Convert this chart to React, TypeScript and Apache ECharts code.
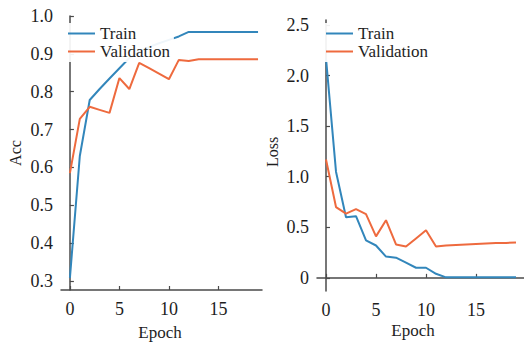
import React, { useEffect, useRef } from "react";
import * as echarts from "echarts";

const epochs = [0, 1, 2, 3, 4, 5, 6, 7, 8, 9, 10, 11, 12, 13, 14, 15, 16, 17, 18, 19];
const trainAcc = [0.308, 0.63, 0.778, 0.807, 0.835, 0.862, 0.889, 0.905, 0.918, 0.928, 0.937, 0.946, 0.958, 0.958, 0.958, 0.958, 0.958, 0.958, 0.958, 0.958];
const valAcc = [0.585, 0.728, 0.76, 0.752, 0.744, 0.836, 0.807, 0.876, 0.862, 0.848, 0.833, 0.884, 0.881, 0.886, 0.886, 0.886, 0.886, 0.886, 0.886, 0.886];
const trainLoss = [2.17, 1.05, 0.6, 0.61, 0.37, 0.32, 0.21, 0.2, 0.15, 0.1, 0.1, 0.04, 0.005, 0.005, 0.005, 0.005, 0.005, 0.005, 0.005, 0.005];
const valLoss = [1.17, 0.7, 0.635, 0.68, 0.63, 0.41, 0.57, 0.33, 0.31, 0.39, 0.47, 0.31, 0.32, 0.325, 0.33, 0.335, 0.34, 0.345, 0.345, 0.35];

const xTicks = [0, 5, 10, 15];
const accTicks = [0.3, 0.4, 0.5, 0.6, 0.7, 0.8, 0.9, 1.0];
const lossTicks = [0, 0.5, 1.0, 1.5, 2.0, 2.5];
const legendNames = ["Train", "Validation"];

const FONT = "Liberation Serif";
const TEXT = "#1e1e1e";
const AXIS = "#4a4a4a";
const BLUE = "#3286bb";
const ORANGE = "#ee6a3e";

const pairs = (ys: number[]) => epochs.map((e, i) => [e, ys[i]]);

export default function App() {
  const ref = useRef<HTMLDivElement>(null);
  useEffect(() => {
    document.body.style.margin = "0";
    const chart = echarts.init(ref.current!, null, { renderer: "svg" });
    const axisCommon = {
      axisLine: { show: true, lineStyle: { color: AXIS, width: 1.5 } },
      axisTick: { show: true, inside: true, length: 4, lineStyle: { color: AXIS, width: 1.2 } },
      splitLine: { show: false },
    };
    const xAxisOf = (gridIndex: number, max: number) => ({
      type: "value",
      gridIndex,
      min: -0.9,
      max,
      ...axisCommon,
      axisTick: { ...axisCommon.axisTick, customValues: xTicks },
      axisLabel: {
        customValues: xTicks,
        margin: 10,
        fontSize: 18,
        fontFamily: FONT,
        color: TEXT,
      },
    });
    const legendOf = (left: number) => ({
      data: legendNames,
      orient: "vertical",
      left,
      top: 23,
      icon: "rect",
      itemWidth: 27,
      itemHeight: 2,
      itemGap: 1,
      padding: [2, 4, 2, 5],
      backgroundColor: "rgba(255,255,255,0.92)",
      textStyle: { fontSize: 17, lineHeight: 16, fontFamily: FONT, color: TEXT },
    });
    const lineSeries = (name: string, data: number[], color: string, idx: number) => ({
      name,
      type: "line",
      xAxisIndex: idx,
      yAxisIndex: idx,
      data: pairs(data),
      showSymbol: false,
      symbol: "none",
      color,
      lineStyle: { color, width: 2 },
    });
    const nameText = (text: string, x: number, y: number, rot: number, size: number) => ({
      type: "text",
      x,
      y,
      rotation: rot,
      style: { text, fontSize: size, fontFamily: FONT, fill: TEXT, align: "center", verticalAlign: "middle" },
    });
    chart.setOption({
      animation: false,
      backgroundColor: "#ffffff",
      textStyle: { fontFamily: FONT },
      color: [BLUE, ORANGE],
      grid: [
        { left: 61, top: 16, width: 201, height: 274, containLabel: false, outerBoundsMode: "none" },
        { left: 317, top: 20, width: 207, height: 271, containLabel: false, outerBoundsMode: "none" },
      ],
      xAxis: [xAxisOf(0, 19.4), xAxisOf(1, 19.8)],
      yAxis: [
        {
          type: "value",
          gridIndex: 0,
          min: 0.276,
          max: 1.0,
          ...axisCommon,
          axisTick: { ...axisCommon.axisTick, customValues: accTicks },
          axisLabel: {
            customValues: accTicks,
            formatter: (v: number) => v.toFixed(1),
            margin: 8,
            fontSize: 18,
            fontFamily: FONT,
            color: TEXT,
          },
        },
        {
          type: "value",
          gridIndex: 1,
          min: -0.13,
          max: 2.55,
          ...axisCommon,
          axisTick: { ...axisCommon.axisTick, customValues: lossTicks },
          axisLabel: {
            customValues: lossTicks,
            formatter: (v: number) => (v === 0 ? "0" : v.toFixed(1)),
            margin: 8,
            fontSize: 18,
            fontFamily: FONT,
            color: TEXT,
          },
        },
      ],
      legend: [legendOf(63), legendOf(321)],
      series: [
        lineSeries("Train", trainAcc, BLUE, 0),
        lineSeries("Validation", valAcc, ORANGE, 0),
        lineSeries("Train", trainLoss, BLUE, 1),
        lineSeries("Validation", valLoss, ORANGE, 1),
      ],
      graphic: [
        nameText("Acc", 15, 153, Math.PI / 2, 16),
        nameText("Loss", 272, 152, Math.PI / 2, 16),
        nameText("Epoch", 160, 332, 0, 17),
        nameText("Epoch", 413, 330, 0, 17),
      ],
    });
    return () => chart.dispose();
  }, []);
  return <div ref={ref} style={{ width: 524, height: 342 }} />;
}
